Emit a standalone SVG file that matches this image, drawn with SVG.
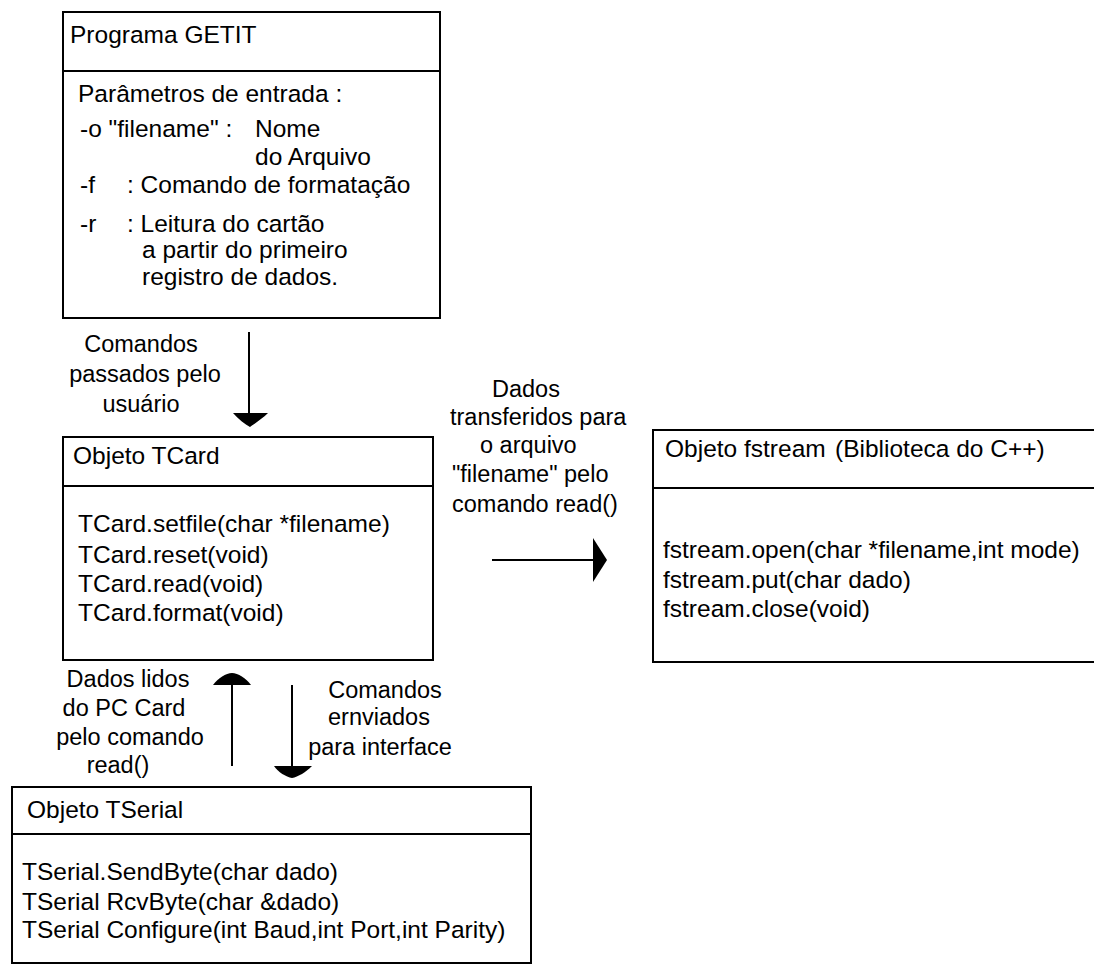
<svg xmlns="http://www.w3.org/2000/svg" width="1094" height="965" viewBox="0 0 1094 965">
  <style>
    .box { fill: none; stroke: #000; stroke-width: 2; }
    .sep { stroke: #000; stroke-width: 2; }
    .t { font-family: "Liberation Sans", Arial, sans-serif; font-size: 24.5px; fill: #000; }
    .lbl { font-family: "Liberation Sans", Arial, sans-serif; font-size: 23.5px; fill: #000; }
    .mid { text-anchor: middle; }
    .wire { stroke: #000; stroke-width: 2; fill: none; }
    .head { fill: #000; stroke: none; }
  </style>
  <rect width="1094" height="965" fill="#fff"/>

  <!-- Programa GETIT -->
  <g id="getit">
    <rect class="box" x="63" y="12" width="377" height="306"/>
    <line class="sep" x1="63" y1="71" x2="440" y2="71"/>
    <text class="t" x="70" y="43">Programa GETIT</text>
    <text class="t" x="78" y="102">Parâmetros de entrada :</text>
    <text class="t" x="80" y="137">-o "filename" :</text>
    <text class="t" x="255" y="137">Nome</text>
    <text class="t" x="255" y="165">do Arquivo</text>
    <text class="t" x="80" y="193">-f</text>
    <text class="t" x="127" y="193">: Comando de formatação</text>
    <text class="t" x="80" y="232">-r</text>
    <text class="t" x="127" y="232">: Leitura do cartão</text>
    <text class="t" x="142" y="258">a partir do primeiro</text>
    <text class="t" x="142" y="285">registro de dados.</text>
  </g>

  <!-- Objeto TCard -->
  <g id="tcard">
    <rect class="box" x="63" y="437" width="370" height="223"/>
    <line class="sep" x1="63" y1="486" x2="433" y2="486"/>
    <text class="t" x="73" y="464">Objeto TCard</text>
    <text class="t" x="78" y="532">TCard.setfile(char *filename)</text>
    <text class="t" x="78" y="563">TCard.reset(void)</text>
    <text class="t" x="78" y="592">TCard.read(void)</text>
    <text class="t" x="78" y="621">TCard.format(void)</text>
  </g>

  <!-- Objeto fstream -->
  <g id="fstream">
    <rect class="box" x="653" y="430" width="460" height="232"/>
    <line class="sep" x1="653" y1="488" x2="1094" y2="488"/>
    <text class="t" x="665" y="457">Objeto fstream</text>
    <text class="t" x="835" y="457">(Biblioteca do C++)</text>
    <text class="t" x="663" y="558">fstream.open(char *filename,int mode)</text>
    <text class="t" x="663" y="588">fstream.put(char dado)</text>
    <text class="t" x="663" y="617">fstream.close(void)</text>
  </g>

  <!-- Objeto TSerial -->
  <g id="tserial">
    <rect class="box" x="12" y="787" width="519" height="176"/>
    <line class="sep" x1="12" y1="834" x2="531" y2="834"/>
    <text class="t" x="27" y="818">Objeto TSerial</text>
    <text class="t" x="22" y="880">TSerial.SendByte(char dado)</text>
    <text class="t" x="22" y="910">TSerial RcvByte(char &amp;dado)</text>
    <text class="t" x="22" y="938">TSerial Configure(int Baud,int Port,int Parity)</text>
  </g>

  <!-- connectors and their labels -->
  <g id="connectors">
    <!-- GETIT to TCard -->
    <line class="wire" x1="249" y1="332" x2="249" y2="415"/>
    <path class="head" d="M233,413 L268,413 C262,419 254,424 250,427 C245,424 238,419 233,413 Z"/>
    <text class="lbl mid" x="141" y="352">Comandos</text>
    <text class="lbl mid" x="145" y="382">passados pelo</text>
    <text class="lbl mid" x="141" y="412">usuário</text>

    <!-- TCard to fstream -->
    <line class="wire" x1="492" y1="560" x2="595" y2="560"/>
    <path class="head" d="M593,538 L607,560 L593,582 Z"/>
    <text class="lbl" x="492" y="397">Dados</text>
    <text class="lbl" x="450" y="425">transferidos para</text>
    <text class="lbl" x="480" y="453">o arquivo</text>
    <text class="lbl" x="452" y="482">"filename" pelo</text>
    <text class="lbl" x="452" y="512">comando read()</text>

    <!-- TSerial up to TCard -->
    <line class="wire" x1="232" y1="684" x2="232" y2="766"/>
    <path class="head" d="M213,685 C218,678 226,673 232,673 C238,673 246,678 251,685 Z"/>
    <text class="lbl mid" x="128" y="687">Dados lidos</text>
    <text class="lbl mid" x="124" y="716">do PC Card</text>
    <text class="lbl mid" x="130" y="745">pelo comando</text>
    <text class="lbl mid" x="118" y="773">read()</text>

    <!-- TCard down to TSerial -->
    <line class="wire" x1="292" y1="685" x2="292" y2="767"/>
    <path class="head" d="M274,766 L312,766 C306,772 298,777 292,778 C286,777 278,772 274,766 Z"/>
    <text class="lbl mid" x="385" y="698">Comandos</text>
    <text class="lbl mid" x="379" y="725">ernviados</text>
    <text class="lbl mid" x="380" y="755">para interface</text>
  </g>
</svg>
